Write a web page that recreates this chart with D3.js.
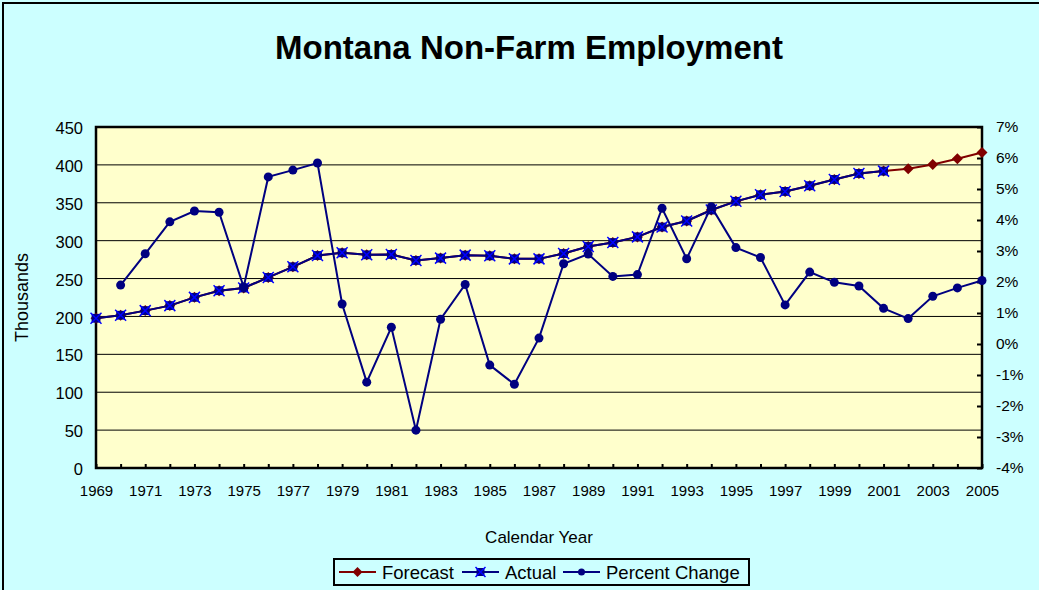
<!DOCTYPE html>
<html>
<head>
<meta charset="utf-8">
<script src="https://cdn.jsdelivr.net/npm/d3@7"></script>
<style>
	body { margin: 0; background: #ccffff; }
	svg { display: block; font-family: "Liberation Sans", Arial, sans-serif; }
</style>
</head>
<body>
<div id="chart"></div>
<script>
const years = d3.range(1969, 2006);
const yearLabels = years.filter((y) => y % 2 === 1);
const leftTicks = [0, 50, 100, 150, 200, 250, 300, 350, 400, 450];
const rightTicks = [-4, -3, -2, -1, 0, 1, 2, 3, 4, 5, 6, 7];

// thousands of jobs, 1969-2001
const actual = [
	197.6, 201.6, 207.7, 214.3, 225.2, 234.0, 237.5, 251.5, 265.5, 280.4,
	284.0, 281.3, 281.8, 273.9, 277.0, 280.9, 280.0, 276.0, 276.0, 283.0,
	292.3, 297.5, 305.0, 318.0, 326.0, 340.5, 351.9, 360.6, 365.0, 372.5,
	380.8, 388.7, 391.8,
];
// forecast runs the whole span, 2002-2005 beyond the actuals
const forecastTail = [394.8, 400.5, 408.0, 416.3];
const forecast = actual.concat(forecastTail);
// percent change, 1970-2005
const percentChange = [
	1.90, 2.91, 3.94, 4.29, 4.25, 1.84, 5.39, 5.61, 5.84, 1.29,
	-1.23, 0.54, -2.78, 0.80, 1.92, -0.68, -1.30, 0.19, 2.59, 2.90,
	2.18, 2.24, 4.38, 2.75, 4.43, 3.11, 2.79, 1.26, 2.32, 1.99,
	1.87, 1.15, 0.82, 1.54, 1.81, 2.05,
];

const width = 1039;
const height = 590;
const plot = { left: 96, right: 982, top: 127, bottom: 468 };
const navy = "#000080";
const darkRed = "#800000";

const svg = d3
	.select("#chart")
	.append("svg")
	.attr("width", width)
	.attr("height", height);

// chart area + outer frame (right/bottom edges fall outside the picture)
svg.append("rect")
	.attr("x", 3).attr("y", 3)
	.attr("width", width + 20).attr("height", height + 20)
	.attr("fill", "#ccffff")
	.attr("stroke", "#000").attr("stroke-width", 2);

svg.append("text")
	.attr("x", 529).attr("y", 59)
	.attr("text-anchor", "middle")
	.style("font-size", "33px").style("font-weight", "bold")
	.text("Montana Non-Farm Employment");

const x = d3.scalePoint().domain(years).range([plot.left, plot.right]);
const yLeft = d3.scaleLinear().domain([0, 450]).range([plot.bottom, plot.top]);
const yRight = d3.scaleLinear().domain([-4, 7]).range([plot.bottom, plot.top]);

svg.append("rect")
	.attr("x", plot.left).attr("y", plot.top)
	.attr("width", plot.right - plot.left).attr("height", plot.bottom - plot.top)
	.attr("fill", "#ffffcc");

// gridlines
svg.append("g")
	.selectAll("line")
	.data(leftTicks.slice(1, -1))
	.join("line")
	.attr("x1", plot.left).attr("x2", plot.right)
	.attr("y1", (d) => yLeft(d)).attr("y2", (d) => yLeft(d))
	.attr("stroke", "#000").attr("stroke-width", 1);

// left axis
const leftAxis = svg.append("g")
	.attr("transform", `translate(${plot.left},0)`)
	.call(d3.axisLeft(yLeft).tickValues(leftTicks).tickSize(0).tickPadding(13));
leftAxis.select(".domain").remove();
leftAxis.selectAll("text").style("font-size", "16.5px").attr("fill", "#000").attr("dy", "0.4em");

// right axis, ticks point inward
const rightAxis = svg.append("g")
	.attr("transform", `translate(${plot.right},0)`)
	.call(d3.axisRight(yRight).tickValues(rightTicks).tickFormat((d) => `${d}%`).tickSizeInner(-5).tickSizeOuter(0).tickPadding(14));
rightAxis.select(".domain").remove();
rightAxis.selectAll("line").attr("stroke", "#000").attr("stroke-width", 2);
rightAxis.selectAll("text").style("font-size", "15.5px").attr("fill", "#000");

// bottom axis, ticks inward, labels every other year
const bottomAxis = svg.append("g")
	.attr("transform", `translate(0,${plot.bottom})`)
	.call(d3.axisBottom(x).tickSizeInner(-4).tickSizeOuter(0).tickPadding(17)
		.tickFormat((d) => (yearLabels.includes(d) ? d : "")));
bottomAxis.select(".domain").remove();
bottomAxis.selectAll("line").attr("stroke", "#000").attr("stroke-width", 2);
bottomAxis.selectAll("text").style("font-size", "15px").attr("fill", "#000");

// plot border
svg.append("rect")
	.attr("x", plot.left).attr("y", plot.top)
	.attr("width", plot.right - plot.left).attr("height", plot.bottom - plot.top)
	.attr("fill", "none").attr("stroke", "#000").attr("stroke-width", 2.5);

svg.append("text")
	.attr("transform", `translate(28,${(plot.top + plot.bottom) / 2}) rotate(-90)`)
	.attr("text-anchor", "middle")
	.style("font-size", "18px")
	.text("Thousands");

svg.append("text")
	.attr("x", (plot.left + plot.right) / 2).attr("y", 543)
	.attr("text-anchor", "middle")
	.style("font-size", "17px")
	.text("Calendar Year");

// markers
const diamond = (g, cx, cy, r) =>
	g.append("path")
		.attr("d", `M${cx},${cy - r}L${cx + r},${cy}L${cx},${cy + r}L${cx - r},${cy}Z`)
		.attr("fill", darkRed);
const xSquare = (g, cx, cy, r) => {
	g.append("rect")
		.attr("x", cx - r * 0.8).attr("y", cy - r * 0.8)
		.attr("width", r * 1.6).attr("height", r * 1.6)
		.attr("fill", navy);
	g.append("path")
		.attr("d", `M${cx - r},${cy - r}L${cx + r},${cy + r}M${cx - r},${cy + r}L${cx + r},${cy - r}`)
		.attr("stroke", "#0000ff").attr("stroke-width", 1.5);
};
const dot = (g, cx, cy, r) =>
	g.append("circle").attr("cx", cx).attr("cy", cy).attr("r", r).attr("fill", navy);

const forecastPts = forecast.map((v, i) => [x(years[i]), yLeft(v)]);
const actualPts = actual.map((v, i) => [x(years[i]), yLeft(v)]);
const pctPts = percentChange.map((v, i) => [x(years[i + 1]), yRight(v)]);

const line = d3.line();

svg.append("path").attr("d", line(forecastPts))
	.attr("fill", "none").attr("stroke", darkRed).attr("stroke-width", 2);
const fG = svg.append("g");
forecastPts.forEach(([cx, cy]) => diamond(fG, cx, cy, 5.5));

svg.append("path").attr("d", line(actualPts))
	.attr("fill", "none").attr("stroke", navy).attr("stroke-width", 2);
const aG = svg.append("g");
actualPts.forEach(([cx, cy]) => xSquare(aG, cx, cy, 5.5));

svg.append("path").attr("d", line(pctPts))
	.attr("fill", "none").attr("stroke", navy).attr("stroke-width", 2);
const pG = svg.append("g");
pctPts.forEach(([cx, cy]) => dot(pG, cx, cy, 4.5));

// legend
const legend = svg.append("g");
legend.append("rect")
	.attr("x", 334).attr("y", 559).attr("width", 415).attr("height", 26)
	.attr("fill", "#ccffff").attr("stroke", "#000").attr("stroke-width", 2);
const legendItems = [
	{ label: "Forecast", color: darkRed, mark: diamond, x: 339 },
	{ label: "Actual", color: navy, mark: xSquare, x: 462 },
	{ label: "Percent Change", color: navy, mark: dot, x: 563 },
];
legendItems.forEach((d) => {
	legend.append("line")
		.attr("x1", d.x).attr("x2", d.x + 37)
		.attr("y1", 572).attr("y2", 572)
		.attr("stroke", d.color).attr("stroke-width", 2);
	d.mark(legend, d.x + 18.5, 572, d.mark === dot ? 3.5 : 5);
	legend.append("text")
		.attr("x", d.x + 43).attr("y", 578.5)
		.style("font-size", "18.5px")
		.text(d.label);
});
</script>
</body>
</html>
